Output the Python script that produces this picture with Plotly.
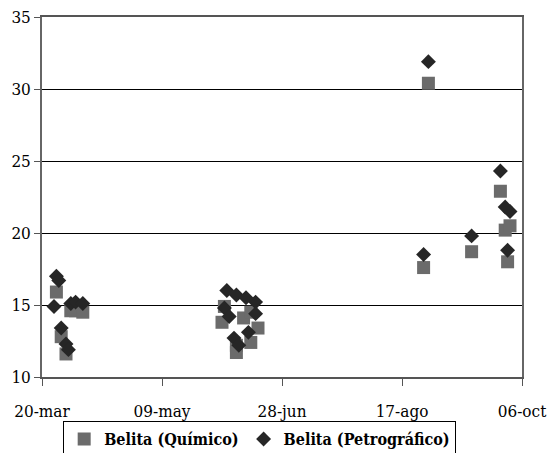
import plotly.graph_objects as go

# Belita (Químico) - squares
quim_dates = ["2005-03-26", "2005-03-28", "2005-03-30", "2005-04-01", "2005-04-03", "2005-04-06",
              "2005-06-03", "2005-06-04", "2005-06-12", "2005-06-09", "2005-06-09", "2005-06-15",
              "2005-06-18", "2005-06-15",
              "2005-08-26", "2005-08-28", "2005-09-15", "2005-09-27", "2005-09-29", "2005-09-30", "2005-10-01"]
quim_vals = [15.9, 12.8, 11.6, 14.6, 14.6, 14.5,
             13.8, 14.9, 14.1, 12.2, 11.7, 12.4,
             13.4, 14.5,
             17.6, 30.4, 18.7, 22.9, 20.2, 18.0, 20.5]

# Belita (Petrográfico) - diamonds
petro_dates = ["2005-03-25", "2005-03-26", "2005-03-27", "2005-03-28", "2005-03-30", "2005-03-31",
               "2005-04-01", "2005-04-03", "2005-04-06",
               "2005-06-05", "2005-06-09", "2005-06-13", "2005-06-17", "2005-06-04", "2005-06-06",
               "2005-06-17", "2005-06-08", "2005-06-10", "2005-06-14",
               "2005-08-26", "2005-08-28", "2005-09-15", "2005-09-27", "2005-09-29", "2005-09-30", "2005-10-01"]
petro_vals = [14.9, 17.0, 16.7, 13.4, 12.3, 11.9,
              15.1, 15.2, 15.1,
              16.0, 15.7, 15.5, 15.2, 14.8, 14.2,
              14.4, 12.7, 12.2, 13.1,
              18.5, 31.9, 19.8, 24.3, 21.8, 18.8, 21.5]

tick_dates = ["2005-03-20", "2005-05-09", "2005-06-28", "2005-08-17", "2005-10-06"]
tick_labels = ["20-mar", "09-may", "28-jun", "17-ago", "06-oct"]
y_ticks = [10, 15, 20, 25, 30, 35]

SERIF = "DejaVu Serif Condensed, DejaVu Serif"

fig = go.Figure()
fig.add_trace(go.Scatter(
    x=quim_dates, y=quim_vals, mode="markers", name="Belita (Químico)",
    marker=dict(symbol="square", size=13, color="#6b6b6b", line=dict(width=0)),
))
fig.add_trace(go.Scatter(
    x=petro_dates, y=petro_vals, mode="markers", name="Belita (Petrográfico)",
    marker=dict(symbol="diamond", size=11.5, color="#262626", line=dict(width=0)),
))

fig.update_layout(
    width=547, height=453,
    margin=dict(l=42, r=25, t=17, b=76, autoexpand=False),
    paper_bgcolor="white", plot_bgcolor="white",
    font=dict(family=SERIF, size=17, color="black"),
    showlegend=True,
    legend=dict(
        orientation="h", x=0.4535, xanchor="center", y=-0.1224, yanchor="top",
        bordercolor="black", borderwidth=1, bgcolor="white",
        font=dict(family=SERIF, size=16, color="black", weight="bold"),
        itemwidth=30, tracegroupgap=0,
    ),
    xaxis=dict(
        range=["2005-03-20", "2005-10-06"], type="date",
        tickvals=tick_dates, ticktext=tick_labels,
        tickfont=dict(family=SERIF, size=17, color="black"),
        showgrid=False, zeroline=False,
        showline=True, linecolor="#555555", linewidth=1.5, mirror=True,
        ticks="outside", ticklen=7, tickcolor="#555555",
        ticklabelstandoff=11, ticklabeloverflow="allow",
    ),
    yaxis=dict(
        range=[10, 35], tickvals=y_ticks,
        tickfont=dict(family=SERIF, size=17, color="black"),
        showgrid=True, gridcolor="black", gridwidth=1, zeroline=False,
        showline=True, linecolor="#666666", linewidth=1.5, mirror=True,
        ticks="outside", ticklen=6, tickcolor="#555555",
        ticklabeloverflow="allow",
    ),
)

fig.write_html("out.html")
